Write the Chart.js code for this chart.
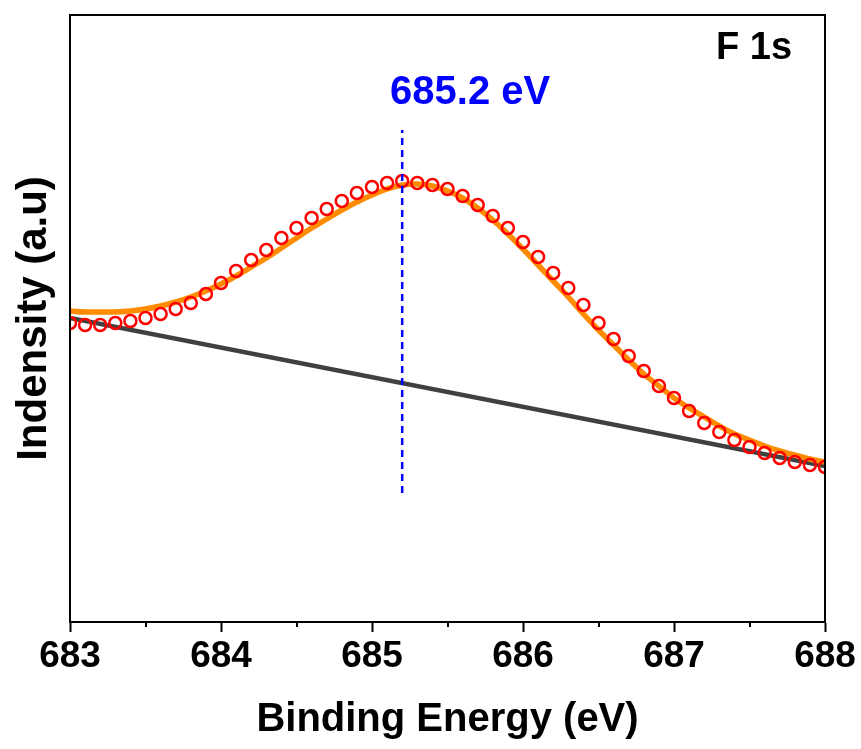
<!DOCTYPE html>
<html>
<head>
<meta charset="utf-8">
<script src="https://cdn.jsdelivr.net/npm/chart.js@4.4.0/dist/chart.umd.min.js"></script>
<style>
html, body { margin: 0; padding: 0; background: #fff; }
</style>
</head>
<body>
<canvas id="xps" width="861" height="749"></canvas>
<script>
// F 1s XPS spectrum (arbitrary intensity units)
const energy = [
    683.0, 683.1, 683.2, 683.3, 683.4, 683.5, 683.6, 683.7, 683.8, 683.9,
    684.0, 684.1, 684.2, 684.3, 684.4, 684.5, 684.6, 684.7, 684.8, 684.9,
    685.0, 685.1, 685.2, 685.3, 685.4, 685.5, 685.6, 685.7, 685.8, 685.9,
    686.0, 686.1, 686.2, 686.3, 686.4, 686.5, 686.6, 686.7, 686.8, 686.9,
    687.0, 687.1, 687.2, 687.3, 687.4, 687.5, 687.6, 687.7, 687.8, 687.9,
    688.0
];
const measured = [
    299, 297, 297, 299, 301, 304, 308, 313, 319, 328,
    339, 351, 362, 372, 384, 394, 404, 413, 421, 429,
    435, 439, 441, 439, 437, 433, 426, 417, 406, 394,
    380, 365, 349, 334, 317, 299, 283, 266, 251, 236,
    224, 211, 199, 190, 182, 175, 169, 164, 160, 157,
    155
];
const envelope = [
    311, 310, 310, 310, 311, 313, 316, 320, 325, 331,
    338, 346, 355, 364, 374, 384, 394, 403, 412, 420,
    427, 433, 437, 438, 436, 431, 424, 414, 402, 388,
    373, 357, 341, 325, 308, 292, 277, 262, 248, 236,
    224, 214, 205, 196, 188, 182, 176, 171, 167, 163,
    160
];
const bgEnergy = [683.0, 688.0];
const background = [304, 156];
const peakPos = 685.2;
const peakLine = [129, 492];
const xTicks = [683, 684, 685, 686, 687, 688];
const xMinor = [683.5, 684.5, 685.5, 686.5, 687.5];

const pts = (xs, ys) => xs.map((x, i) => ({ x: x, y: ys[i] }));
const FONT = '"Liberation Sans", Arial, sans-serif';

const frame = {
    id: 'frame',
    afterDraw(chart) {
        const { ctx, chartArea: { top, bottom, left, right }, scales: { x, y } } = chart;
        ctx.save();
        ctx.strokeStyle = '#000';
        ctx.lineWidth = 2;
        ctx.strokeRect(left, top, right - left, bottom - top);
        // minor ticks
        ctx.beginPath();
        xMinor.forEach(v => {
            const px = Math.round(x.getPixelForValue(v));
            ctx.moveTo(px, bottom);
            ctx.lineTo(px, bottom + 5);
        });
        ctx.stroke();
        // labels
        ctx.textAlign = 'center';
        ctx.textBaseline = 'middle';
        ctx.font = 'bold 40px ' + FONT;
        ctx.fillStyle = '#0000FF';
        ctx.fillText('685.2 eV', x.getPixelForValue(685.65), y.getPixelForValue(529));
        ctx.font = 'bold 38px ' + FONT;
        ctx.fillStyle = '#000';
        ctx.fillText('F 1s', x.getPixelForValue(687.53), y.getPixelForValue(573));
        ctx.restore();
    }
};

const chart = new Chart(document.getElementById('xps'), {
    type: 'line',
    data: {
        datasets: [{
            label: 'peak',
            data: pts([peakPos, peakPos], peakLine),
            borderColor: '#0000FF',
            borderWidth: 2.5,
            borderDash: [7, 5],
            pointRadius: 0,
            order: 0
        }, {
            label: 'raw',
            data: pts(energy, measured),
            showLine: false,
            pointStyle: 'circle',
            pointRadius: 6,
            pointBorderWidth: 2.5,
            pointBorderColor: '#FF0000',
            pointBackgroundColor: 'rgba(0,0,0,0)',
            order: 1
        }, {
            label: 'fit',
            data: pts(energy, envelope),
            borderColor: '#FF8C00',
            borderWidth: 5.5,
            tension: 0.4,
            pointRadius: 0,
            order: 2
        }, {
            label: 'background',
            data: pts(bgEnergy, background),
            borderColor: '#404040',
            borderWidth: 4.5,
            pointRadius: 0,
            order: 3
        }]
    },
    options: {
        responsive: false,
        animation: false,
        devicePixelRatio: 1,
        layout: { padding: { top: 15, right: 36, left: 0, bottom: 0 } },
        plugins: { legend: { display: false }, tooltip: { enabled: false } },
        scales: {
            x: {
                type: 'linear',
                min: 683,
                max: 688,
                afterBuildTicks: s => { s.ticks = xTicks.map(v => ({ value: v })); },
                afterFit: s => { s.height = 127; },
                ticks: {
                    color: '#000',
                    maxRotation: 0,
                    padding: 3,
                    font: { family: FONT, size: 37, weight: 'bold' }
                },
                grid: { drawOnChartArea: false, tickLength: 10, tickWidth: 2, tickColor: '#000', color: '#000' },
                border: { display: true, color: '#000', width: 2 },
                title: {
                    display: true,
                    text: 'Binding Energy (eV)',
                    color: '#000',
                    padding: { top: 0, bottom: 5 },
                    font: { family: FONT, size: 40, weight: 'bold' }
                }
            },
            y: {
                min: 0,
                max: 607,
                afterFit: s => { s.width = 70; },
                ticks: { display: false },
                grid: { display: false },
                border: { display: true, color: '#000', width: 2 },
                title: {
                    display: true,
                    text: 'Indensity (a.u)',
                    color: '#000',
                    padding: { top: 9, bottom: 0 },
                    font: { family: FONT, size: 42, weight: 'bold' }
                }
            }
        }
    },
    plugins: [frame]
});
</script>
</body>
</html>
